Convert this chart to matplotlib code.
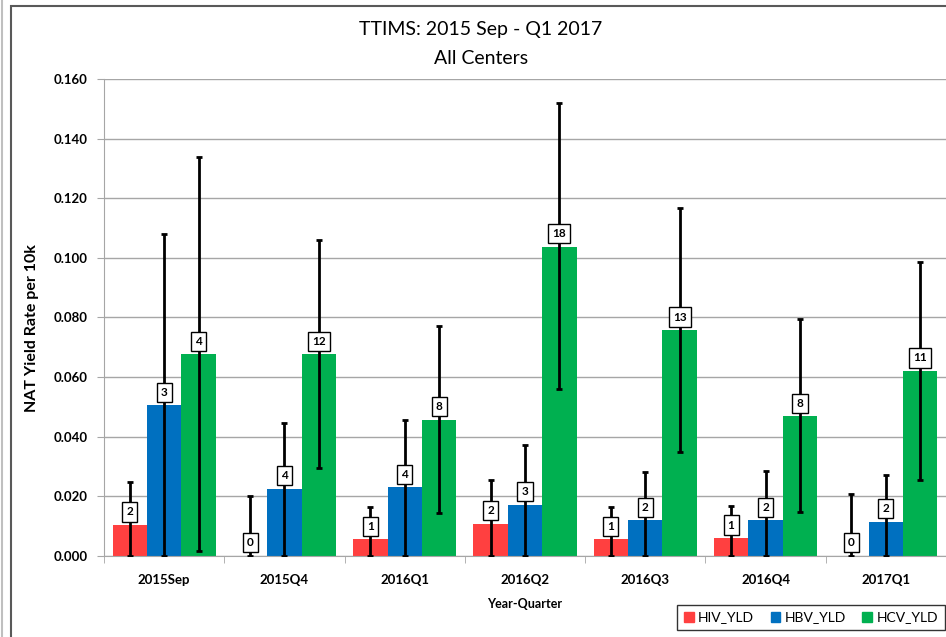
import numpy as np
import matplotlib.pyplot as plt
from matplotlib.patches import Rectangle, Patch
from matplotlib.lines import Line2D

plt.rcParams['font.family'] = ['Lato', 'DejaVu Sans']

quarters = ['2015Sep', '2015Q4', '2016Q1', '2016Q2', '2016Q3', '2016Q4', '2017Q1']

# yield rate per 10k, with lower / upper confidence limits and positive counts
hiv_rate = [0.0103, 0.0, 0.0055, 0.0107, 0.0055, 0.0059, 0.0]
hiv_low = [0.0, 0.0, 0.0, 0.0, 0.0, 0.0, 0.0]
hiv_high = [0.0246, 0.0199, 0.0162, 0.0255, 0.0162, 0.0168, 0.0207]
hiv_count = [2, 0, 1, 2, 1, 1, 0]

hbv_rate = [0.0505, 0.0225, 0.0229, 0.0171, 0.0119, 0.0119, 0.0114]
hbv_low = [0.0, 0.0, 0.0, 0.0, 0.0, 0.0, 0.0]
hbv_high = [0.1080, 0.0446, 0.0454, 0.0370, 0.0281, 0.0283, 0.0272]
hbv_count = [3, 4, 4, 3, 2, 2, 2]

hcv_rate = [0.0676, 0.0676, 0.0457, 0.1037, 0.0757, 0.0468, 0.0620]
hcv_low = [0.0016, 0.0294, 0.0143, 0.0560, 0.0347, 0.0146, 0.0255]
hcv_high = [0.1338, 0.1061, 0.0771, 0.1518, 0.1166, 0.0796, 0.0985]
hcv_count = [4, 12, 8, 18, 13, 8, 11]

series = [
    ('HIV_YLD', hiv_rate, hiv_low, hiv_high, hiv_count, '#FF4040'),
    ('HBV_YLD', hbv_rate, hbv_low, hbv_high, hbv_count, '#0070C0'),
    ('HCV_YLD', hcv_rate, hcv_low, hcv_high, hcv_count, '#00B050'),
]

W, H = 946, 637
fig = plt.figure(figsize=(W / 100, H / 100), dpi=100)
ax = fig.add_axes([104 / W, (H - 555.7) / H, (W - 104) / W, 476.7 / H])

x = np.arange(len(quarters))
bw = 0.286
for i, (name, rate, low, high, count, color) in enumerate(series):
    rate = np.array(rate)
    pos = x + (i - 1) * bw
    ax.bar(pos, rate, bw, color=color, zorder=2, label=name)
    err = [rate - np.array(low), np.array(high) - rate]
    ax.errorbar(pos, rate, yerr=err, fmt='none', ecolor='black',
                elinewidth=2, capsize=2.5, capthick=2, zorder=3)
    for px, v, n in zip(pos, rate, count):
        ax.annotate(str(n), (px, v), xytext=(0, 9.4), textcoords='offset points',
                    ha='center', va='center', fontsize=8.5, fontweight='bold',
                    zorder=4,
                    bbox=dict(boxstyle='square,pad=0.35', fc='white',
                              ec='black', lw=1))

ax.set_xlim(-0.5, len(quarters) - 0.5)
ax.set_ylim(0, 0.16)
ax.set_yticks(np.arange(0, 0.161, 0.02))
ax.set_yticklabels(['%.3f' % t for t in np.arange(0, 0.161, 0.02)],
                   fontweight='bold', fontsize=9.5)
ax.set_xticks(x)
ax.set_xticklabels(quarters, fontweight='bold', fontsize=9.5)
ax.set_xticks(np.arange(-0.5, len(quarters), 1), minor=True)
ax.tick_params(axis='x', which='major', length=0, pad=13)
ax.tick_params(axis='x', which='minor', length=5, color='#A6A6A6')
ax.tick_params(axis='y', length=5, color='#A6A6A6', pad=7)
ax.grid(axis='y', color='#A6A6A6', lw=1, zorder=0)
ax.set_axisbelow(True)
for s in ['top', 'right']:
    ax.spines[s].set_visible(False)
for s in ['left', 'bottom']:
    ax.spines[s].set_color('#A6A6A6')

ax.set_ylabel('NAT Yield Rate per 10k', fontweight='bold', fontsize=11.5)
ax.yaxis.set_label_coords(-0.077, 0.478)
fig.text(525 / W, 1 - 604 / H, 'Year-Quarter', ha='center', va='center',
         fontsize=9, fontweight='bold')

fig.text(481 / W, 1 - 30 / H, 'TTIMS: 2015 Sep - Q1 2017', ha='center',
         va='center', fontsize=14)
fig.text(481 / W, 1 - 58 / H, 'All Centers', ha='center', va='center',
         fontsize=14)

handles = [Patch(color=c, label=n) for n, *_, c in series]
leg = fig.legend(handles=handles, ncol=3, loc='center',
                 bbox_to_anchor=(811 / W, 1 - 617.5 / H), fontsize=10,
                 frameon=True, fancybox=False, edgecolor='black',
                 handlelength=0.7, handleheight=0.7, handletextpad=0.3,
                 columnspacing=1.2, borderpad=0.5)
leg.get_frame().set_linewidth(1)

# chart frame and page edge
fig.add_artist(Rectangle((10.5 / W, -0.1), 2, 1 - 5.5 / H + 0.1,
                         transform=fig.transFigure, fill=False,
                         edgecolor='#595959', lw=1.5))
fig.add_artist(Line2D([1.5 / W, 1.5 / W], [0, 1], transform=fig.transFigure,
                      color='#BFBFBF', lw=1.5))

fig.savefig('out.png', dpi=100)
